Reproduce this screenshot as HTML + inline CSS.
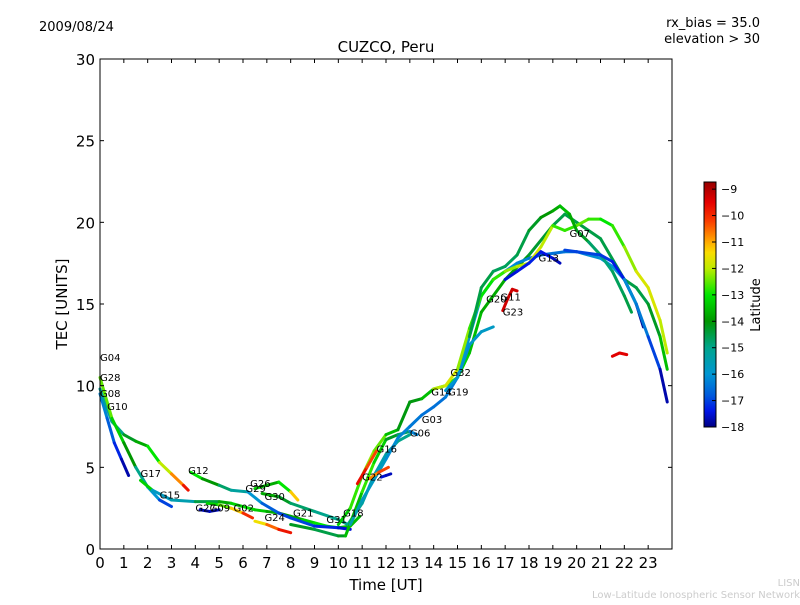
<!DOCTYPE html>
<html><head><meta charset="utf-8"><style>
body{margin:0;background:#fff;}
svg text{font-family:"DejaVu Sans","Liberation Sans",sans-serif;}
</style></head><body>
<svg id="chart" width="800" height="600" xmlns="http://www.w3.org/2000/svg">
<rect width="800" height="600" fill="#fff"/>
<text x="39" y="31" font-size="13">2009/08/24</text>
<text x="760" y="27" font-size="13" text-anchor="end">rx_bias = 35.0</text>
<text x="760" y="43" font-size="13" text-anchor="end">elevation &gt; 30</text>
<text x="386" y="52" font-size="15" text-anchor="middle">CUZCO, Peru</text>
<g id="marks"></g>
<rect x="100" y="59" width="572" height="490" fill="none" stroke="#000" stroke-width="1"/>
<g id="axes"></g>
<text x="386" y="590" font-size="15" text-anchor="middle">Time [UT]</text>
<text transform="translate(67,304) rotate(-90)" font-size="15" text-anchor="middle">TEC [UNITS]</text>
<g id="cbar"></g>
<text transform="translate(760,305) rotate(-90)" font-size="13" text-anchor="middle">Latitude</text>
<text x="800" y="586" font-size="10" fill="#ccc" text-anchor="end">LISN</text>
<text x="800" y="598" font-size="10" fill="#ccc" text-anchor="end">Low-Latitude Ionospheric Sensor Network</text>
</svg>
<script>
const xTicks=[0,1,2,3,4,5,6,7,8,9,10,11,12,13,14,15,16,17,18,19,20,21,22,23];
const yTicks=[0,5,10,15,20,25,30];
const cbarTicks=[-9,-10,-11,-12,-13,-14,-15,-16,-17,-18];
const trackNames=["A","B","C","D","E","F","G","H","I","J","K","L","M","N","O","P","Q","R","S","T","U","V","W","X"];
const trackTimes=[
[0,0.3,0.6,0.9,1.2],
[0,0.5,1,1.5,2,2.5,3,3.5,3.7],
[0,0.5,1,1.5,2,2.5,3],
[1.7,2.2,3,4,5,5.5,6,6.5,7,7.5,8,8.5,9,9.5,10,10.5,10.9],
[3.8,4.3,5,5.5,6.2,6.8,7.5,8,9,10,10.5],
[6.5,7,7.5,8,8.3],
[6.8,7.5,8,9,10,10.4,11,11.5,12,12.5,13],
[4.5,5,5.5,6,6.4],
[6.5,7,7.5,8],
[4.2,4.6,5],
[8,9,10,10.3,11,11.5,12,12.5,13,13.3],
[10,10.5,11,11.5,12,12.5,13,13.5,14,14.5,15,15.5,16,17,18,19,19.5,20,21,22,22.5,23,23.5,23.8],
[10.5,11,12,12.5,13,13.5,14,14.5,15,15.5,16,16.5],
[14.5,15,15.5,16,16.5,17,17.5,18,18.5,19,19.5,20,20.5,21,21.5,22],
[14,14.5,15,15.5,16,16.5,17,17.5,18,18.5,19,19.5,20,20.5,21,21.5,22,22.5,23,23.5,23.8],
[15.5,16,16.5,17,17.5,18,18.5,19,19.3,19.7,20,20.5,21,21.5,22,22.3],
[17,17.5,18,18.5,19,19.3],
[19.5,20,21,21.5,22,22.5,22.8],
[22,22.5,23,23.5,23.8],
[10.8,11.2,11.6],
[11.3,11.7,12.1],
[11.8,12,12.2],
[16.9,17.1,17.3,17.5],
[21.5,21.8,22.1]
];
const trackTec=[
[9.5,8,6.5,5.5,4.5],
[9.8,7.8,7,6.6,6.3,5.3,4.6,3.9,3.6],
[10.5,8,6.5,5,3.8,3,2.6],
[4.2,3.6,3,2.9,2.9,2.8,2.6,2.4,2.3,2.2,2,1.8,1.6,1.4,1.3,1.4,2],
[4.7,4.3,3.9,3.6,3.5,2.8,2.2,1.9,1.4,1.3,1.2],
[3.7,3.9,4.1,3.5,3.0],
[3.4,3.2,2.8,2.3,1.8,1.5,2.8,4.5,5.8,6.6,7],
[2.8,2.7,2.5,2.2,1.9],
[1.7,1.5,1.2,1.0],
[2.4,2.3,2.4],
[1.5,1.2,0.8,0.8,3.5,5.3,6.7,7,7.2,7],
[1.5,2.5,4.5,6,7,7.3,9,9.2,9.8,10,10.5,12,14.5,16.5,18,19.8,20.5,20,19,16.5,16,15,13,11],
[1.5,3,5.5,6.8,7.5,8.2,8.7,9.3,10.5,12.5,13.3,13.6],
[9.7,10.5,13,15.5,16.5,17,17.5,17.8,18,18.1,18.2,18.2,18,17.8,17.3,16.5],
[9.8,10,11,13.5,15.5,16.5,17,17.3,17.5,18.5,19.8,19.5,19.8,20.2,20.2,19.8,18.5,17,16,14,12],
[13,16,17,17.3,18,19.5,20.3,20.7,21,20.5,19.5,18.8,18,17,15.5,14.5],
[16.5,17,17.5,18.2,17.8,17.5],
[18.3,18.2,18,17.6,16.5,15,13.6],
[16.5,15,13,11,9],
[4,5,6],
[4.3,4.7,5],
[4.4,4.5,4.6],
[14.6,15.3,15.9,15.8],
[11.8,12,11.9]
];
const trackLat=[
[-16,-16.5,-17,-17.5,-18],
[-15,-15.5,-14.5,-14,-13.5,-12.5,-11.5,-10,-9.5],
[-12,-13,-13.5,-14.5,-15.5,-16.5,-17.5],
[-11,-15.5,-16,-15,-14,-13.5,-13,-13.2,-13.5,-14,-14,-13.5,-13,-13,-13,-14,-13],
[-12.5,-13.5,-14.5,-15,-15.5,-16.5,-17,-17,-17,-17.5,-17.5],
[-13,-13.5,-14,-12,-10.5],
[-13.5,-14,-14.5,-15,-15,-15,-15.2,-15.5,-15.5,-15,-15],
[-13.5,-13,-12,-10.5,-9.5],
[-12,-11,-10,-9.5],
[-17.5,-17.8,-17.5],
[-14,-14.5,-14.5,-14,-13,-12.5,-14,-14.5,-15,-17.5],
[-13.5,-13,-12.5,-12,-13,-14,-14.2,-14,-13,-12.5,-13,-13.5,-13.5,-14,-14.2,-14.5,-14.5,-14.5,-14.5,-14.5,-14.5,-14.5,-14,-13],
[-15.5,-15.5,-16,-16.2,-16.3,-16.5,-16.5,-16.5,-16.2,-16,-15.8,-15.8],
[-16,-16,-16,-15.8,-15.8,-16,-16.2,-16.3,-16.5,-16.5,-16.5,-16.3,-16.2,-16,-16,-16],
[-12.5,-11.5,-12,-12.5,-13,-13,-12.5,-12,-12,-11.5,-12.5,-13,-12.5,-12.5,-13,-13,-12.5,-12,-11.5,-12,-12],
[-14.5,-14.5,-14.5,-14.8,-14.5,-14.5,-14,-14,-13.5,-13.5,-14,-14.5,-15,-14.8,-14.5,-14.5],
[-17.5,-17.5,-17.3,-17.3,-17.5,-17.8],
[-17,-17,-17,-17.2,-17.5,-17.8,-18],
[-16,-16.3,-16.5,-17.5,-18],
[-9.3,-10,-10.5],
[-11,-10.5,-10],
[-17.5,-17.5,-17.8],
[-9.3,-9.3,-9.3,-9.3],
[-9.5,-9.4,-9.5]
];
const labelNames=["G04","G28","G08","G10","G17","G12","G15","G27","G09","G02","G26","G29","G30","G24","G21","G31","G18","G22","G16","G06","G03","G14","G19","G32","G20","G11","G23","G13","G07"];
const labelTimes=[0,0,0,0.3,1.7,3.7,2.5,4,4.6,5.6,6.3,6.1,6.9,6.9,8.1,9.5,10.2,11,11.6,13,13.5,13.9,14.6,14.7,16.2,16.8,16.9,18.4,19.7];
const labelTec=[11.5,10.3,9.3,8.5,4.4,4.6,3.1,2.3,2.3,2.3,3.8,3.5,3,1.7,2,1.6,2,4.2,5.9,6.9,7.7,9.4,9.4,10.6,15.1,15.2,14.3,17.6,19.1];

const X0=100,X1=672,Y0=549,Y1=59;
const xs=t=>X0+t*(X1-X0)/24;
const ys=v=>Y0-v*(Y0-Y1)/30;
const LMIN=-18,LMAX=-8.73,CB_TOP=182,CB_BOT=427;
const cy=l=>CB_BOT-(l-LMIN)/(LMAX-LMIN)*(CB_BOT-CB_TOP);
const stops=[[-18,[0,0,130]],[-17.4,[0,20,230]],[-16.8,[0,90,220]],[-16,[0,150,210]],[-15,[0,165,140]],[-14,[0,150,0]],[-13,[0,230,0]],[-12,[190,235,0]],[-11.4,[250,220,0]],[-11,[255,170,0]],[-10.2,[250,60,0]],[-9.5,[230,0,0]],[-8.73,[150,0,0]]];
function latColor(l){
 if(l<=stops[0][0])return `rgb(${stops[0][1]})`;
 for(let i=1;i<stops.length;i++){ if(l<=stops[i][0]){const a=stops[i-1],b=stops[i];const f=(l-a[0])/(b[0]-a[0]);
  return `rgb(${a[1].map((c,k)=>Math.round(c+(b[1][k]-c)*f)).join(',')})`;}}
 return `rgb(${stops[stops.length-1][1]})`;
}
const NS="http://www.w3.org/2000/svg";
const marks=document.getElementById('marks');
trackTimes.forEach((tt,i)=>{
 const g=document.createElementNS(NS,'g');
 
 
 for(let j=0;j<tt.length-1;j++){
  const ln=document.createElementNS(NS,'line');
  ln.setAttribute('x1',xs(tt[j]));ln.setAttribute('y1',ys(trackTec[i][j]));
  ln.setAttribute('x2',xs(tt[j+1]));ln.setAttribute('y2',ys(trackTec[i][j+1]));
  ln.setAttribute('stroke',latColor((trackLat[i][j]+trackLat[i][j+1])/2));
  ln.setAttribute('stroke-width','3');ln.setAttribute('stroke-linecap','round');
  
  
  g.appendChild(ln);
 }
 marks.appendChild(g);
});
labelNames.forEach((n,i)=>{
 const t=document.createElementNS(NS,'text');
 t.setAttribute('x',xs(labelTimes[i]));t.setAttribute('y',ys(labelTec[i]));
 t.setAttribute('font-size','10');t.textContent=n;
 
 
 marks.appendChild(t);
});
const axes=document.getElementById('axes');
xTicks.forEach(v=>{
 const x=xs(v);
 axes.insertAdjacentHTML('beforeend',`<line x1="${x}" y1="${Y0}" x2="${x}" y2="${Y0-4}" stroke="#000"/><line x1="${x}" y1="${Y1}" x2="${x}" y2="${Y1+4}" stroke="#000"/>`);
 const t=document.createElementNS(NS,'text');
 t.setAttribute('x',x);t.setAttribute('y',568);t.setAttribute('font-size','15');t.setAttribute('text-anchor','middle');
 t.textContent=v;
 
 
 axes.appendChild(t);
});
yTicks.forEach(v=>{
 const y=ys(v);
 axes.insertAdjacentHTML('beforeend',`<line x1="${X0}" y1="${y}" x2="${X0+4}" y2="${y}" stroke="#000"/><line x1="${X1}" y1="${y}" x2="${X1-4}" y2="${y}" stroke="#000"/>`);
 const t=document.createElementNS(NS,'text');
 t.setAttribute('x',95);t.setAttribute('y',y+6);t.setAttribute('font-size','15');t.setAttribute('text-anchor','end');
 t.textContent=v;
 
 
 axes.appendChild(t);
});
const cb=document.getElementById('cbar');
for(let p=CB_TOP;p<CB_BOT;p++){
 const l=LMIN+(CB_BOT-p-0.5)/(CB_BOT-CB_TOP)*(LMAX-LMIN);
 cb.insertAdjacentHTML('beforeend',`<rect x="704" y="${p}" width="12" height="1.2" fill="${latColor(l)}"/>`);
}
cb.insertAdjacentHTML('beforeend',`<rect x="704" y="${CB_TOP}" width="12" height="${CB_BOT-CB_TOP}" fill="none" stroke="#000"/>`);
cbarTicks.forEach(v=>{
 const y=cy(v);
 cb.insertAdjacentHTML('beforeend',`<line x1="712" y1="${y}" x2="716" y2="${y}" stroke="#000"/>`);
 const t=document.createElementNS(NS,'text');
 t.setAttribute('x',721);t.setAttribute('y',y+4);t.setAttribute('font-size','11');
 t.textContent='\u2212'+Math.abs(v);
 
 
 cb.appendChild(t);
});
</script>
</body></html>
